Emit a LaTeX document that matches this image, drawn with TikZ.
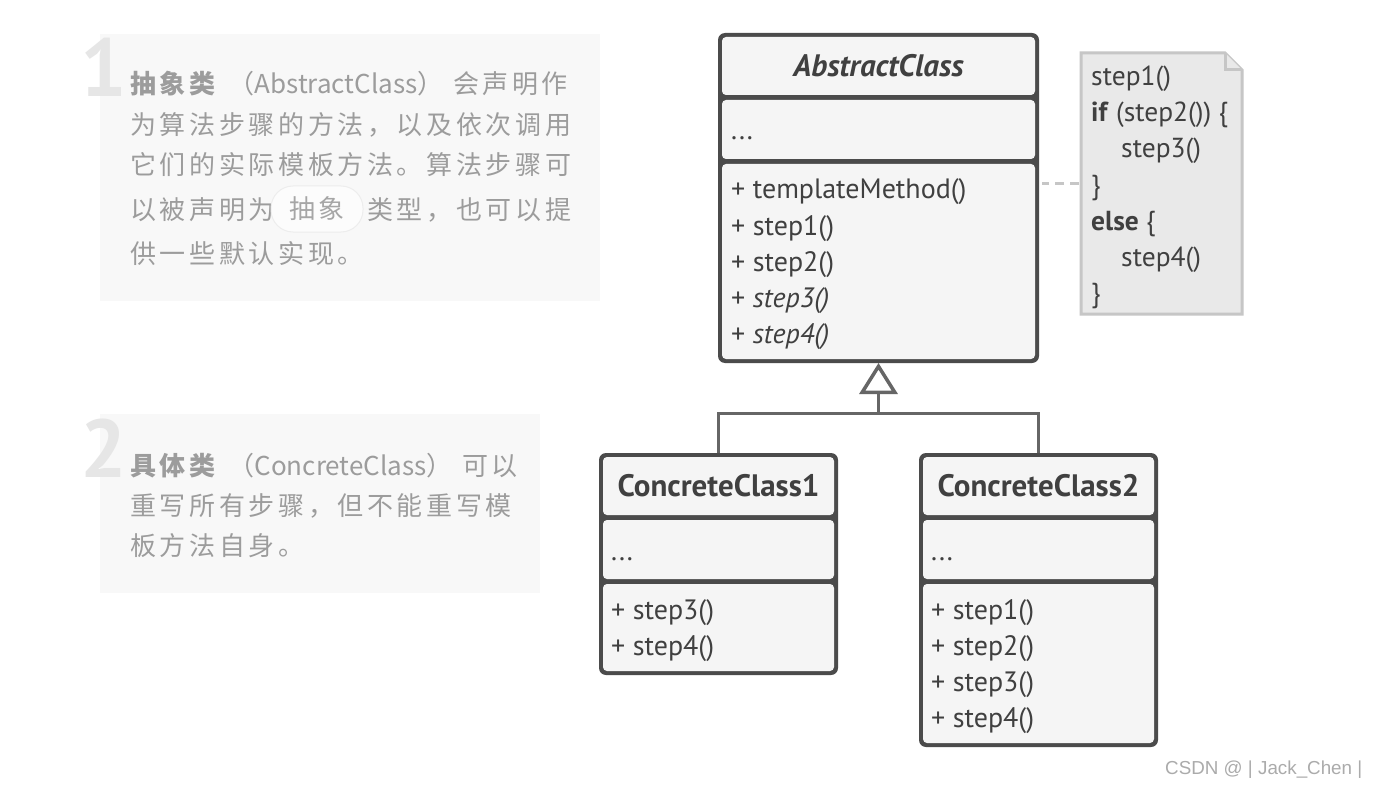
\documentclass[tikz,border=0pt]{standalone}
\usepackage{fontspec}
\setmainfont{PT Sans}
\newfontfamily\cjk{Noto Sans CJK SC}[LetterSpace=14]
\newfontfamily\cjkl{Noto Sans CJK SC}
\newfontfamily\wmfont{Liberation Sans}
\usetikzlibrary{arrows.meta}
\definecolor{bdr}{HTML}{4B4B4B}
\definecolor{txt}{HTML}{404040}
\definecolor{compfill}{HTML}{F5F5F5}
\definecolor{panel}{HTML}{F8F8F8}
\definecolor{ltxt}{HTML}{9C9C9C}
\definecolor{bignum}{HTML}{E6E6E6}
\definecolor{notefill}{HTML}{E9E9E9}
\definecolor{notebdr}{HTML}{C6C6C6}
\definecolor{conncol}{HTML}{666666}
\newcommand{\lat}[1]{{\cjkl #1}}
\begin{document}
\begin{tikzpicture}[x=1pt,y=-1pt,
  outerbox/.style={fill=bdr, rounded corners=7pt, inner sep=0pt, outer sep=0pt, anchor=north west},
  comp/.style={fill=compfill, rounded corners=4pt, inner sep=0pt, outer sep=0pt, anchor=north west},
  cname/.style={text=txt, font=\fontsize{31}{34}\selectfont\bfseries, inner sep=0pt},
  mtext/.style={text=txt, font=\fontsize{28}{30}\selectfont, inner sep=0pt, anchor=base west},
  notetext/.style={text=txt, font=\fontsize{27.5}{30}\selectfont, inner sep=0pt, anchor=base west},
  ctext/.style={text=ltxt, font=\cjk\fontsize{26}{30}\selectfont, inner sep=0pt, anchor=base west},
  panelbox/.style={fill=panel, inner sep=0pt, outer sep=0pt, anchor=north west},
  bignumber/.style={text=bignum, font=\fontsize{82}{82}\selectfont\bfseries, inner sep=0pt, anchor=base west},
  conn/.style={draw=conncol, line width=3pt},
  dashline/.style={draw=notebdr, line width=3pt, dash pattern=on 9pt off 6pt},
  pill/.style={fill=white!60!panel, draw=black!7, line width=1pt, rounded corners=22pt, minimum width=92pt, minimum height=46pt, inner sep=0pt, text=black!35, font=\cjk\fontsize{26}{30}\selectfont}
]
\useasboundingbox (0,0) rectangle (1377,789);
\fill[white] (0,0) rectangle (1377,789);

% ---------- left panels ----------
\node[panelbox, minimum width=500pt, minimum height=267pt] (p1) at (100,34) {};
\node[bignumber] (n1) at (80,97) {1};
\node[ctext] (t1) at (130,94) {\textbf{抽象类} （\lat{AbstractClass}） 会声明作};
\node[ctext] (t2) at (130,135) {为算法步骤的方法，以及依次调用};
\node[ctext] (t3) at (130,175) {它们的实际模板方法。算法步骤可};
\node[ctext] (t4a) at (130,219) {以被声明为};
\node[pill] (pl) at (317,209) {抽象};
\node[ctext] (t4b) at (367,219) {类型，也可以提};
\node[ctext] (t5) at (130,263) {供一些默认实现。};

\node[panelbox, minimum width=440pt, minimum height=179pt] (p2) at (100,414) {};
\node[bignumber] (n2) at (80,477) {2};
\node[ctext] (u1) at (130,475) {\textbf{具体类} （\lat{ConcreteClass}） 可以};
\node[ctext] (u2) at (130,515) {重写所有步骤，但不能重写模};
\node[ctext] (u3) at (130,555) {板方法自身。};

% ---------- AbstractClass ----------
\node[outerbox, minimum width=321pt, minimum height=330pt] (abs) at (718,33) {};
\node[comp, minimum width=313pt, minimum height=58pt] (absH) at (722,37) {};
\node[comp, minimum width=313pt, minimum height=59pt] (absA) at (722,100) {};
\node[comp, minimum width=313pt, minimum height=195pt] (absM) at (722,164) {};
\node[cname] (absN) at (absH.center) {\itshape AbstractClass};
\node[mtext] (absd) at (731,140) {...};
\node[mtext] (am1) at (731,199) {+ templateMethod()};
\node[mtext] (am2) at (731,235) {+ step1()};
\node[mtext] (am3) at (731,271) {+ step2()};
\node[mtext] (am4) at (731,307) {+ \textit{step3()}};
\node[mtext] (am5) at (731,343) {+ \textit{step4()}};

% ---------- note ----------
\node[inner sep=0pt, outer sep=0pt, minimum width=161pt, minimum height=261pt, anchor=north west] (note) at (1081,53) {};
\draw[draw=notebdr, fill=notefill, line width=3pt, line join=miter]
  (note.north west) -- ([xshift=-17pt]note.north east) -- ([yshift=-17pt]note.north east)
  -- (note.south east) -- (note.south west) -- cycle;
\draw[draw=notebdr, fill=notefill, line width=3pt, line join=miter]
  ([xshift=-17pt]note.north east) -- ([xshift=-17pt,yshift=-17pt]note.north east) -- ([yshift=-17pt]note.north east);
\node[notetext] (s1) at (1091,86) {step1()};
\node[notetext] (s2) at (1091,122) {\textbf{if} (step2()) \{};
\node[notetext] (s3) at (1121,158) {step3()};
\node[notetext] (s4) at (1091,194) {\}};
\node[notetext] (s5) at (1091,230) {\textbf{else} \{};
\node[notetext] (s6) at (1121,266) {step4()};
\node[notetext] (s7) at (1091,302) {\}};
\draw[dashline] ([xshift=-2pt]note.west) -- ([xshift=3pt]note.west -| abs.east);

% ---------- ConcreteClass1 ----------
\node[outerbox, minimum width=239pt, minimum height=222pt] (cc1) at (599,453) {};
\node[comp, minimum width=231pt, minimum height=58pt] (cc1H) at (603,457) {};
\node[comp, minimum width=231pt, minimum height=59pt] (cc1A) at (603,520) {};
\node[comp, minimum width=231pt, minimum height=87pt] (cc1M) at (603,584) {};
\node[cname] (cc1N) at (cc1H.center) {ConcreteClass1};
\node[mtext] (cc1d) at (611,560) {...};
\node[mtext] (c1m1) at (611,619) {+ step3()};
\node[mtext] (c1m2) at (611,655) {+ step4()};

% ---------- ConcreteClass2 ----------
\node[outerbox, minimum width=239pt, minimum height=294pt] (cc2) at (919,453) {};
\node[comp, minimum width=231pt, minimum height=58pt] (cc2H) at (923,457) {};
\node[comp, minimum width=231pt, minimum height=59pt] (cc2A) at (923,520) {};
\node[comp, minimum width=231pt, minimum height=159pt] (cc2M) at (923,584) {};
\node[cname] (cc2N) at (cc2H.center) {ConcreteClass2};
\node[mtext] (cc2d) at (931,560) {...};
\node[mtext] (c2m1) at (931,619) {+ step1()};
\node[mtext] (c2m2) at (931,655) {+ step2()};
\node[mtext] (c2m3) at (931,691) {+ step3()};
\node[mtext] (c2m4) at (931,727) {+ step4()};

% ---------- inheritance ----------
\coordinate (junc) at ([yshift=-50pt]abs.south);
\draw[conn] (cc1.north) |- (junc) -| (cc2.north);
\draw[conn, -{Triangle[open, fill=white, length=31pt, width=38pt, line width=3.5pt]}] (junc) -- (abs.south);

% ---------- watermark ----------
\node[text=black!33, font=\wmfont\fontsize{18.8}{20}\selectfont, inner sep=0pt, anchor=west] (wm) at (1165,770) {CSDN @ | Jack\_Chen |};
\end{tikzpicture}
\end{document}
